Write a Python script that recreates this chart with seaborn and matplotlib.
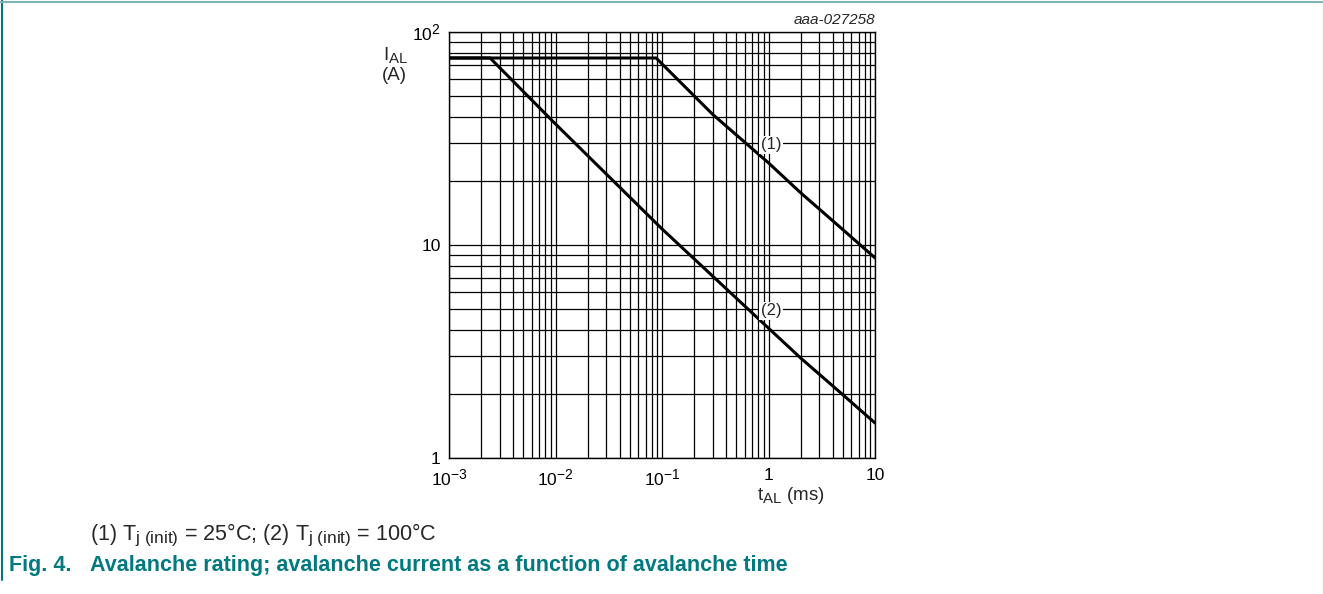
import numpy as np
import pandas as pd
import matplotlib
matplotlib.use("Agg")
import matplotlib.pyplot as plt
import matplotlib._mathtext as mathtext_impl
from matplotlib.ticker import FixedLocator, FixedFormatter, NullFormatter
from matplotlib.lines import Line2D
import seaborn as sns

# Avalanche current I_AL (A) versus avalanche time t_AL (ms)
t_25c = [0.001, 0.088, 0.3, 1.0, 2.0, 5.0, 10.0]
i_25c = [75.5, 75.5, 41.0, 24.3, 17.6, 11.8, 8.7]
t_100c = [0.001, 0.00243, 0.01, 0.1, 1.0, 2.0, 5.0, 10.0]
i_100c = [75.5, 75.5, 37.0, 11.9, 4.07, 2.95, 1.98, 1.46]

curve_labels = ["(1)", "(2)"]
x_ticks = [1e-3, 1e-2, 1e-1, 1, 10]
x_tick_labels = [r"$10^{-3}$", r"$10^{-2}$", r"$10^{-1}$", "1", "10"]
y_ticks = [1, 10, 100]
y_tick_labels = ["1", "10", r"$10^{2}$"]

df = pd.concat([
    pd.DataFrame({"t": t_25c, "I": i_25c, "curve": curve_labels[0]}),
    pd.DataFrame({"t": t_100c, "I": i_100c, "curve": curve_labels[1]}),
])

sns.set_theme(style="white")
plt.rcParams["font.family"] = ["Liberation Sans", "DejaVu Sans"]
plt.rcParams["mathtext.fontset"] = "custom"
plt.rcParams["mathtext.rm"] = "Liberation Sans"
plt.rcParams["mathtext.it"] = "Liberation Sans:italic"
plt.rcParams["mathtext.bf"] = "Liberation Sans:bold"
plt.rcParams["mathtext.default"] = "regular"
# larger super/subscripts, as in datasheet typesetting
mathtext_impl.SHRINK_FACTOR = 0.8

W, H = 1323, 594
fig = plt.figure(figsize=(W / 100, H / 100), dpi=100)
fig.patch.set_facecolor("white")

def px(x, y):
    return x / W, 1 - y / H

ax_l, ax_t, ax_r, ax_b = 449, 32, 875, 458
ax = fig.add_axes([ax_l / W, 1 - ax_b / H, (ax_r - ax_l) / W, (ax_b - ax_t) / H])

sns.lineplot(data=df, x="t", y="I", hue="curve", palette=["black", "black"],
             linewidth=2.2, legend=False, ax=ax, sort=False, zorder=5)

ax.set_xscale("log")
ax.set_yscale("log")
ax.set_xlim(1e-3, 10)
ax.set_ylim(1, 100)

minor_x = [m * 10.0 ** e for e in range(-3, 1) for m in range(2, 10)]
minor_y = [m * 10.0 ** e for e in range(0, 2) for m in range(2, 10)]
ax.xaxis.set_major_locator(FixedLocator(x_ticks))
ax.xaxis.set_major_formatter(FixedFormatter(x_tick_labels))
ax.xaxis.set_minor_locator(FixedLocator(minor_x))
ax.xaxis.set_minor_formatter(NullFormatter())
ax.yaxis.set_major_locator(FixedLocator(y_ticks))
ax.yaxis.set_major_formatter(FixedFormatter(y_tick_labels))
ax.yaxis.set_minor_locator(FixedLocator(minor_y))
ax.yaxis.set_minor_formatter(NullFormatter())

ax.grid(True, which="both", color="black", linewidth=0.9)
ax.set_axisbelow(True)
ax.tick_params(which="both", length=0, labelsize=12.5, colors="black")
ax.tick_params(axis="x", pad=7)
ax.tick_params(axis="y", pad=6)
ax.set_xlabel("")
ax.set_ylabel("")
for s in ax.spines.values():
    s.set_color("black")
    s.set_linewidth(1.0)

# Curve labels with white backing over the grid
box = dict(boxstyle="square,pad=0.08", fc="white", ec="none")
ax.text(1.055, 29.5, curve_labels[0], fontsize=12, ha="center", va="center", zorder=6, bbox=box)
ax.text(1.055, 4.9, curve_labels[1], fontsize=12, ha="center", va="center", zorder=6, bbox=box)

# Axis titles
fig.text(*px(383, 55), r"I$_{AL}$", fontsize=13.5, ha="left", va="center")
fig.text(*px(382, 76), "(A)", fontsize=13.5, ha="left", va="center")
fig.text(*px(757, 495), r"t$_{AL}$ (ms)", fontsize=13.5, ha="left", va="center")
fig.text(*px(875, 20), "aaa-027258", fontsize=11, style="italic", ha="right", va="center")

# Caption lines
teal = "#00797F"
fig.text(*px(90, 535), r"(1) T$_{j\ (init)}$ = 25°C; (2) T$_{j\ (init)}$ = 100°C",
         fontsize=15.5, ha="left", va="center")
fig.text(*px(9, 566), "Fig. 4.", fontsize=15.5, weight="bold", color=teal,
         ha="left", va="center")
fig.text(*px(90, 566), "Avalanche rating; avalanche current as a function of avalanche time",
         fontsize=15.5, weight="bold", color=teal, ha="left", va="center")

# Page frame lines
fig.add_artist(Line2D([1.5 / W, 1.5 / W], [1 - 580 / H, 1], color=teal, linewidth=1.5,
                      transform=fig.transFigure))
fig.add_artist(Line2D([0, 1], [1 - 1.5 / H, 1 - 1.5 / H], color="#7FB3B8", linewidth=1.5,
                      transform=fig.transFigure))
fig.add_artist(Line2D([1 - 0.5 / W, 1 - 0.5 / W], [0, 1], color="#E0E0E0", linewidth=1,
                      transform=fig.transFigure))

fig.savefig("out.png", dpi=100, facecolor="white")
